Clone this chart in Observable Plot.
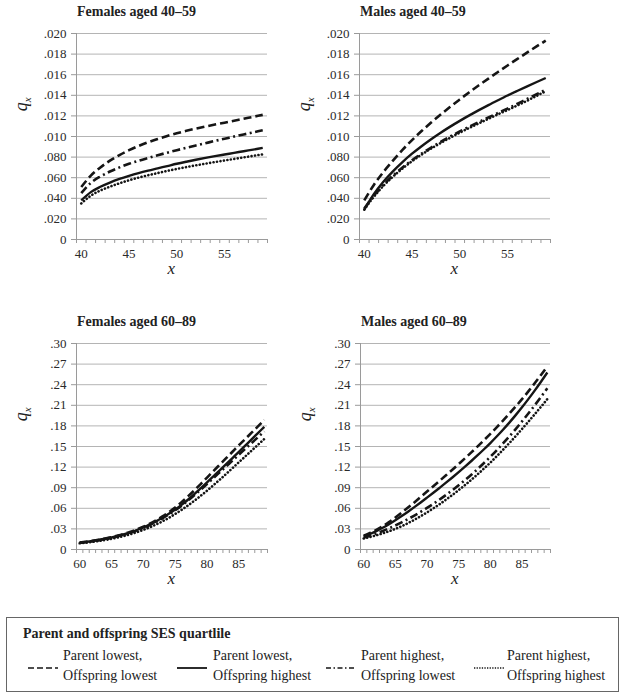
<!DOCTYPE html>
<html>
<head>
<meta charset="utf-8">
<script src="https://cdn.jsdelivr.net/npm/d3@7"></script>
<script src="https://cdn.jsdelivr.net/npm/@observablehq/plot@0.6"></script>
<style>
  body { margin: 0; background: #fff; }
  #root { position: relative; width: 624px; height: 696px; font-family: "Liberation Serif", "DejaVu Serif", serif; color: #222; overflow: hidden; }
  #root svg text { font-family: "Liberation Serif", "DejaVu Serif", serif !important; }
  .abs { position: absolute; }
  .ptitle { position: absolute; font-weight: bold; font-size: 14px; white-space: nowrap; color: #222; }
  .ylab { position: absolute; font-style: italic; font-size: 18px; transform: rotate(-90deg); transform-origin: center; white-space: nowrap; }
  .ylab sub { font-size: 11px; }
  .xlab { position: absolute; font-style: italic; font-size: 17px; }
  #legend { position: absolute; left: 6px; top: 617px; width: 613px; height: 75px; border: 1px solid #666; box-sizing: border-box; }
  .legtitle { position: absolute; left: 16px; top: 8px; font-weight: bold; font-size: 14px; white-space: nowrap; }
  .legtext { position: absolute; top: 28px; font-size: 14px; line-height: 20px; white-space: nowrap; }
</style>
</head>
<body>
<div id="root"></div>
<script>
// ---------- data ----------
const agesYoung = [40,41,42,43,44,45,46,47,48,49,50,51,52,53,54,55,56,57,58,59];
const agesOld = [60,61,62,63,64,65,66,67,68,69,70,71,72,73,74,75,76,77,78,79,80,81,82,83,84,85,86,87,88,89];

const seriesNames = ["Parent lowest, Offspring lowest", "Parent lowest, Offspring highest", "Parent highest, Offspring lowest", "Parent highest, Offspring highest"];

// Females aged 40–59
const femYoungLowLow   = [.00510,.00620,.00700,.00765,.00820,.00867,.00908,.00944,.00976,.01005,.01031,.01055,.01077,.01097,.01116,.01134,.01153,.01172,.01191,.01210];
const femYoungLowHigh  = [.00380,.00460,.00512,.00553,.00588,.00618,.00645,.00669,.00691,.00713,.00735,.00755,.00774,.00792,.00809,.00825,.00841,.00857,.00873,.00889];
const femYoungHighLow  = [.00450,.00550,.00612,.00660,.00700,.00735,.00765,.00792,.00818,.00843,.00867,.00890,.00913,.00935,.00957,.00978,.00999,.01020,.01040,.01060];
const femYoungHighHigh = [.00350,.00425,.00475,.00513,.00546,.00575,.00601,.00624,.00645,.00666,.00685,.00703,.00720,.00736,.00752,.00767,.00782,.00797,.00812,.00826];

// Males aged 40–59
const maleYoungLowLow   = [.00380,.00530,.00655,.00765,.00870,.00965,.01053,.01135,.01213,.01288,.01360,.01430,.01497,.01562,.01626,.01689,.01751,.01812,.01872,.01931];
const maleYoungLowHigh  = [.00290,.00440,.00560,.00662,.00752,.00833,.00906,.00974,.01037,.01096,.01152,.01205,.01256,.01305,.01352,.01398,.01442,.01485,.01527,.01568];
const maleYoungHighLow  = [.00300,.00425,.00530,.00620,.00699,.00770,.00834,.00893,.00948,.01000,.01049,.01096,.01141,.01185,.01228,.01270,.01316,.01362,.01408,.01455];
const maleYoungHighHigh = [.00290,.00415,.00520,.00610,.00689,.00760,.00824,.00883,.00937,.00988,.01037,.01083,.01128,.01172,.01215,.01257,.01300,.01345,.01392,.01440];

// Females aged 60–89
const femOldLowLow   = [.0100,.0112,.0126,.0142,.0160,.0180,.0203,.0229,.0259,.0293,.0331,.0375,.0425,.0481,.0543,.0611,.0689,.0773,.0861,.0953,.1048,.1142,.1236,.1330,.1424,.1518,.1609,.1701,.1793,.1886];
const femOldLowHigh  = [.0100,.0111,.0124,.0139,.0156,.0175,.0197,.0222,.0251,.0284,.0321,.0363,.0410,.0462,.0519,.0581,.0650,.0725,.0806,.0891,.0978,.1066,.1154,.1243,.1332,.1421,.1512,.1603,.1695,.1787];
const femOldHighLow  = [.0095,.0106,.0119,.0134,.0151,.0170,.0192,.0217,.0246,.0279,.0316,.0357,.0403,.0454,.0510,.0571,.0638,.0711,.0789,.0871,.0955,.1040,.1125,.1210,.1295,.1380,.1465,.1550,.1635,.1720];
const femOldHighHigh = [.0090,.0099,.0110,.0123,.0138,.0155,.0175,.0198,.0224,.0253,.0286,.0323,.0364,.0410,.0461,.0517,.0577,.0641,.0709,.0781,.0857,.0936,.1017,.1100,.1185,.1271,.1355,.1440,.1525,.1610];

// Males aged 60–89
const maleOldLowLow   = [.0200,.0240,.0286,.0339,.0399,.0465,.0536,.0610,.0686,.0764,.0844,.0922,.1001,.1081,.1162,.1244,.1328,.1414,.1502,.1592,.1684,.1779,.1877,.1978,.2082,.2189,.2302,.2420,.2542,.2668];
const maleOldLowHigh  = [.0190,.0226,.0268,.0316,.0369,.0426,.0487,.0551,.0617,.0685,.0755,.0826,.0899,.0973,.1049,.1127,.1207,.1289,.1373,.1460,.1550,.1645,.1744,.1848,.1957,.2071,.2190,.2314,.2443,.2577];
const maleOldHighLow  = [.0170,.0200,.0233,.0269,.0308,.0350,.0395,.0443,.0494,.0548,.0605,.0665,.0728,.0794,.0863,.0935,.1010,.1089,.1172,.1259,.1350,.1445,.1544,.1647,.1754,.1865,.1980,.2099,.2222,.2349];
const maleOldHighHigh = [.0160,.0182,.0207,.0235,.0266,.0300,.0340,.0384,.0432,.0484,.0540,.0599,.0661,.0726,.0794,.0865,.0939,.1016,.1096,.1179,.1265,.1357,.1452,.1550,.1651,.1755,.1861,.1969,.2079,.2191];

// tick values and labels
const youngYTicks = [0,.002,.004,.006,.008,.010,.012,.014,.016,.018,.020];
const youngYLabels = ["0",".020",".040",".060",".080",".010",".012",".014",".016",".018",".020"];
const oldYTicks = [0,.03,.06,.09,.12,.15,.18,.21,.24,.27,.30];
const oldYLabels = ["0",".03",".06",".09",".12",".15",".18",".21",".24",".27",".30"];
const youngXTicks = [40,45,50,55];
const oldXTicks = [60,65,70,75,80,85];

const panelTitles = ["Females aged 40–59", "Males aged 40–59", "Females aged 60–89", "Males aged 60–89"];
const legendTitle = "Parent and offspring SES quartlile";
const legendLines = [["Parent lowest,", "Offspring lowest"], ["Parent lowest,", "Offspring highest"], ["Parent highest,", "Offspring lowest"], ["Parent highest,", "Offspring highest"]];

// ---------- styles ----------
const lineStyles = [
  {strokeDasharray: "8,4", strokeWidth: 2.6, strokeLinecap: "butt"},
  {strokeDasharray: null, strokeWidth: 2.4, strokeLinecap: "butt"},
  {strokeDasharray: "8,3.5,2,3.5", strokeWidth: 2.6, strokeLinecap: "butt"},
  {strokeDasharray: "0.1,3.4", strokeWidth: 2.6, strokeLinecap: "round"}
];

function toRows(ages, arr) { return ages.map((a, i) => ({age: a, q: arr[i]})); }

const root = document.getElementById("root");

function makePanel(cfg) {
  const {left, top, ml, mr, mt, mb, ages, xTicks, yTicks, yLabels, yMax, series, title} = cfg;
  const W = 312, H = 290;
  const x0 = ages[0] - 0.5, x1 = ages[ages.length - 1] + 0.5;
  const bounds = d3.range(x0, x1 + 0.01, 1);
  const marks = [
    Plot.gridY(yTicks.slice(1), {stroke: "#b4b4b4", strokeOpacity: 1, strokeWidth: 1}),
    Plot.axisY(yTicks, {tickSize: 5, tickPadding: 5, stroke: "#9a9a9a", tickFormat: d => yLabels[yTicks.indexOf(d)], label: null}),
    Plot.axisX(bounds, {tickSize: 4, tickPadding: 0, stroke: "#9a9a9a", tickFormat: () => "", label: null}),
    Plot.axisX(xTicks, {tickSize: 0, tickPadding: 9, tickFormat: d => String(d), label: null}),
    Plot.ruleX([x0], {stroke: "#9a9a9a"}),
    Plot.ruleY([0], {stroke: "#9a9a9a"})
  ];
  [3, 2, 1, 0].forEach(k => {
    const st = lineStyles[k];
    const opts = {x: "age", y: "q", stroke: "#151515", strokeWidth: st.strokeWidth, strokeLinecap: st.strokeLinecap, curve: "monotone-x"};
    if (st.strokeDasharray) opts.strokeDasharray = st.strokeDasharray;
    marks.push(Plot.lineY(toRows(ages, series[k]), opts));
  });
  const svg = Plot.plot({
    width: W, height: H,
    marginLeft: ml, marginRight: mr, marginTop: mt, marginBottom: mb,
    x: {domain: [x0, x1]},
    y: {domain: [0, yMax]},
    style: {fontFamily: "Liberation Serif, DejaVu Serif, serif", fontSize: "13px", color: "#2a2a2a", background: "transparent", overflow: "visible"},
    marks
  });
  const holder = document.createElement("div");
  holder.className = "abs";
  holder.style.left = left + "px";
  holder.style.top = top + "px";
  holder.appendChild(svg);
  root.appendChild(holder);

  const t = document.createElement("div");
  t.className = "ptitle";
  t.textContent = title;
  t.style.left = (left + ml + 1) + "px";
  t.style.top = (top + mt - 29) + "px";
  root.appendChild(t);

  const yl = document.createElement("div");
  yl.className = "ylab";
  yl.innerHTML = "q<sub>x</sub>";
  yl.style.left = (left + ml - 61) + "px";
  yl.style.top = (top + mt + 60) + "px";
  root.appendChild(yl);

  const xl = document.createElement("div");
  xl.className = "xlab";
  xl.textContent = "x";
  xl.style.left = (left + ml + (W - ml - mr) / 2 - 4) + "px";
  xl.style.top = (top + H - mb + 20) + "px";
  root.appendChild(xl);
}

makePanel({left: 0, top: 0, ml: 76, mr: 45, mt: 33, mb: 51, ages: agesYoung, xTicks: youngXTicks, yTicks: youngYTicks, yLabels: youngYLabels, yMax: 0.020,
  series: [femYoungLowLow, femYoungLowHigh, femYoungHighLow, femYoungHighHigh], title: panelTitles[0]});
makePanel({left: 312, top: 0, ml: 47, mr: 74, mt: 33, mb: 51, ages: agesYoung, xTicks: youngXTicks, yTicks: youngYTicks, yLabels: youngYLabels, yMax: 0.020,
  series: [maleYoungLowLow, maleYoungLowHigh, maleYoungHighLow, maleYoungHighHigh], title: panelTitles[1]});
makePanel({left: 0, top: 300, ml: 76, mr: 45, mt: 43, mb: 41, ages: agesOld, xTicks: oldXTicks, yTicks: oldYTicks, yLabels: oldYLabels, yMax: 0.30,
  series: [femOldLowLow, femOldLowHigh, femOldHighLow, femOldHighHigh], title: panelTitles[2]});
makePanel({left: 312, top: 300, ml: 48, mr: 74, mt: 43, mb: 41, ages: agesOld, xTicks: oldXTicks, yTicks: oldYTicks, yLabels: oldYLabels, yMax: 0.30,
  series: [maleOldLowLow, maleOldLowHigh, maleOldHighLow, maleOldHighHigh], title: panelTitles[3]});

// ---------- legend ----------
const legend = document.createElement("div");
legend.id = "legend";
const lt = document.createElement("div");
lt.className = "legtitle";
lt.textContent = legendTitle;
legend.appendChild(lt);
const sampleX = [20, 169, 318, 466];
const textX = [56, 206, 354, 500];
lineStyles.forEach((st, i) => {
  const s = d3.create("svg").attr("width", 32).attr("height", 8)
    .style("position", "absolute").style("left", sampleX[i] + "px").style("top", "46px");
  s.append("line").attr("x1", 1).attr("x2", 31).attr("y1", 4).attr("y2", 4)
    .attr("stroke", "#151515").attr("stroke-width", i === 1 ? 1.8 : 1.6)
    .attr("stroke-dasharray", i === 0 ? "6,3" : i === 2 ? "5,2.5,1.5,2.5" : i === 3 ? "1.3,1.3" : null);
  legend.appendChild(s.node());
  const tx = document.createElement("div");
  tx.className = "legtext";
  tx.style.left = textX[i] + "px";
  tx.innerHTML = legendLines[i][0] + "<br>" + legendLines[i][1];
  legend.appendChild(tx);
});
root.appendChild(legend);
</script>
</body>
</html>
